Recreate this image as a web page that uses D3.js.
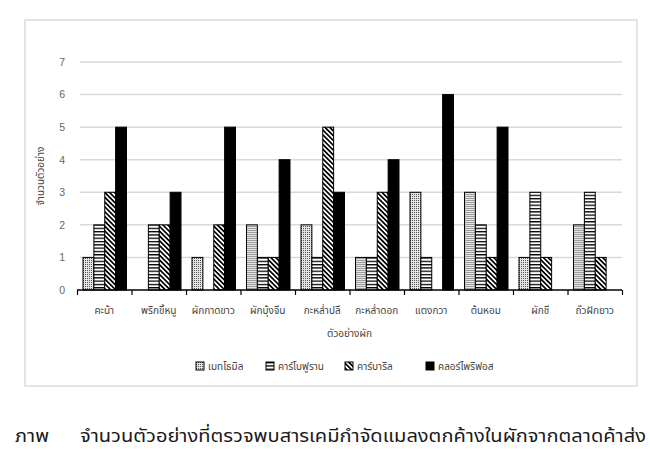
<!DOCTYPE html>
<html>
<head>
<meta charset="utf-8">
<script src="https://cdn.jsdelivr.net/npm/d3@7"></script>
<style>
  html, body { margin: 0; padding: 0; background: #fff; }
  svg { display: block; font-family: "Noto Sans Thai", "Loma", "Tahoma", "Garuda", "Noto Sans", "DejaVu Sans", sans-serif; }
</style>
</head>
<body>
<svg id="chart" width="650" height="450"></svg>
<script>
const categories = ["คะน้า", "พริกขี้หนู", "ผักกาดขาว", "ผักบุ้งจีน", "กะหล่ำปลี", "กะหล่ำดอก", "แตงกวา", "ต้นหอม", "ผักชี", "ถั่วฝักยาว"];
const seriesNames = ["เมทโธมิล", "คาร์โบฟูราน", "คาร์บาริล", "คลอร์ไพริฟอส"];
const methomyl = [1, 0, 1, 2, 2, 1, 3, 3, 1, 2];
const carbofuran = [2, 2, 0, 1, 1, 1, 1, 2, 3, 3];
const carbaryl = [3, 2, 2, 1, 5, 3, 0, 1, 1, 1];
const chlorpyrifos = [5, 3, 5, 4, 3, 4, 6, 5, 0, 0];
const yTicks = [0, 1, 2, 3, 4, 5, 6, 7];
const xTitle = "ตัวอย่างผัก";
const yTitle = "จำนวนตัวอย่าง";
const captionLabel = "ภาพ";
const captionText = "จำนวนตัวอย่างที่ตรวจพบสารเคมีกำจัดแมลงตกค้างในผักจากตลาดค้าส่ง";

const seriesValues = [methomyl, carbofuran, carbaryl, chlorpyrifos];
const fills = ["url(#pDots)", "url(#pHoriz)", "url(#pDiag)", "#000"];

const svg = d3.select("#chart");

// patterns
const defs = svg.append("defs");
const pd = defs.append("pattern").attr("id", "pDots").attr("patternUnits", "userSpaceOnUse")
  .attr("width", 2).attr("height", 2);
pd.append("rect").attr("width", 2).attr("height", 2).attr("fill", "#e4e4e4");
pd.append("rect").attr("width", 1).attr("height", 1).attr("fill", "#555");
const ph = defs.append("pattern").attr("id", "pHoriz").attr("patternUnits", "userSpaceOnUse")
  .attr("width", 4).attr("height", 3.3);
ph.append("rect").attr("width", 4).attr("height", 3.3).attr("fill", "#fff");
ph.append("rect").attr("width", 4).attr("height", 1.3).attr("fill", "#000");
const pg = defs.append("pattern").attr("id", "pDiag").attr("patternUnits", "userSpaceOnUse")
  .attr("width", 4).attr("height", 3.4).attr("patternTransform", "rotate(45)");
pg.append("rect").attr("width", 4).attr("height", 3.4).attr("fill", "#fff");
pg.append("rect").attr("width", 4).attr("height", 1.7).attr("fill", "#000");

// frame
svg.append("rect").attr("x", 25).attr("y", 20).attr("width", 612).attr("height", 366)
  .attr("fill", "#fff").attr("stroke", "#dcdcdc").attr("stroke-width", 1.5);

const x = d3.scaleBand().domain(categories).range([77, 622]).paddingInner(0).paddingOuter(0);
const xi = d3.scaleBand().domain(d3.range(seriesNames.length)).range([6, x.bandwidth() - 5]).padding(0);
const y = d3.scaleLinear().domain([0, 7]).range([290, 62]);
const xb = d3.scaleLinear().domain([0, categories.length]).range([77, 622]);

// gridlines
svg.append("g").selectAll("line").data(yTicks.filter(d => d > 0)).join("line")
  .attr("x1", 80).attr("x2", 622)
  .attr("y1", d => y(d)).attr("y2", d => y(d))
  .attr("stroke", "#d9d9d9").attr("stroke-width", 1.5);

// y axis
const yAxis = svg.append("g").attr("transform", "translate(77,0)")
  .call(d3.axisLeft(y).tickValues(yTicks).tickSize(0).tickPadding(12).tickFormat(d3.format("d")));
yAxis.select(".domain").remove();
yAxis.selectAll("text").attr("fill", "#666").attr("font-size", 10.5).style("font-family", "Arial, 'Liberation Sans', sans-serif");

// bars
const groups = svg.append("g").selectAll("g").data(categories).join("g")
  .attr("transform", d => `translate(${x(d)},0)`);
groups.selectAll("rect").data((c, i) => seriesValues.map((vals, s) => ({ s, v: vals[i] })).filter(d => d.v > 0))
  .join("rect")
  .attr("x", d => xi(d.s))
  .attr("width", xi.bandwidth())
  .attr("y", d => y(d.v))
  .attr("height", d => y(0) - y(d.v))
  .attr("fill", d => fills[d.s])
  .attr("stroke", "#000").attr("stroke-width", 1);

// x axis (boundary ticks)
const xAxis = svg.append("g").attr("transform", `translate(0,${y(0)})`)
  .call(d3.axisBottom(xb).ticks(categories.length).tickSize(5).tickFormat(""));
xAxis.select(".domain").attr("stroke", "#000").attr("stroke-width", 1.5)
  .attr("d", `M${xb.range()[0]},0H${xb.range()[1]}`);
xAxis.selectAll(".tick line").attr("stroke", "#000").attr("stroke-width", 1.2);

// category labels
svg.append("g").selectAll("text").data(categories).join("text")
  .attr("x", d => x(d) + x.bandwidth() / 2)
  .attr("y", 314)
  .attr("text-anchor", "middle")
  .attr("font-size", 10)
  .attr("fill", "#444")
  .text(d => d);

// axis titles
svg.append("text").attr("x", (77 + 622) / 2).attr("y", 337).attr("text-anchor", "middle")
  .attr("font-size", 10).attr("fill", "#444").text(xTitle);
svg.append("text").attr("transform", "translate(44,176) rotate(-90)").attr("text-anchor", "middle")
  .attr("font-size", 10).attr("fill", "#444").text(yTitle);

// legend
const legendX = [196, 266, 345, 426];
const lg = svg.append("g").selectAll("g").data(seriesNames).join("g")
  .attr("transform", (d, i) => `translate(${legendX[i]},362)`);
lg.append("rect").attr("width", 8).attr("height", 8)
  .attr("fill", (d, i) => fills[i]).attr("stroke", "#000").attr("stroke-width", 1);
lg.append("text").attr("x", 12).attr("y", 7.5).attr("font-size", 10).attr("fill", "#444").text(d => d);

// caption
svg.append("text").attr("x", 15).attr("y", 442).attr("font-size", 18).attr("fill", "#1a1a1a")
  .attr("textLength", 34).attr("lengthAdjust", "spacingAndGlyphs").text(captionLabel);
svg.append("text").attr("x", 80).attr("y", 442).attr("font-size", 18).attr("fill", "#1a1a1a")
  .attr("textLength", 566).attr("lengthAdjust", "spacingAndGlyphs").text(captionText);
</script>
</body>
</html>
